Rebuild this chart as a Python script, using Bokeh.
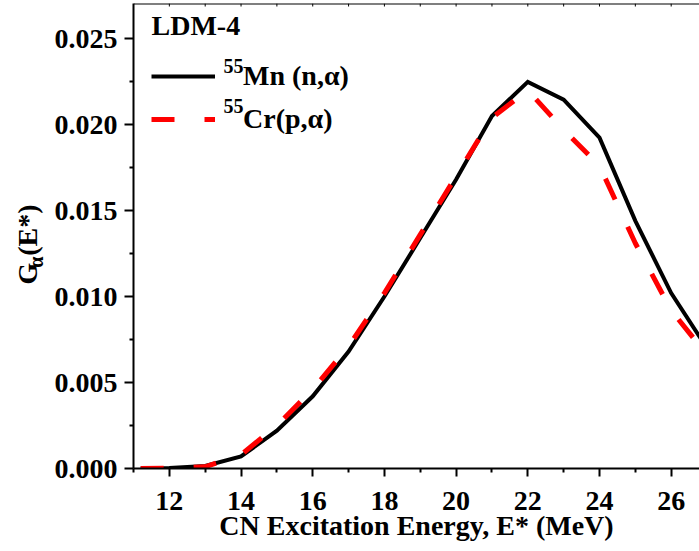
import math
from bokeh.plotting import figure
from bokeh.layouts import row
from bokeh.core.properties import value
from bokeh.models import (Range1d, LinearAxis, FixedTicker, Label, Legend,
                          LegendItem, PrintfTickFormatter, Span)
from bokeh.embed import file_html
from bokeh.resources import INLINE

# ---- data ----
energy = [11.2, 12, 13, 14, 15, 16, 17, 18, 19, 20, 21, 22, 23, 24, 25, 26, 27]
g_mn = [0.0, 0.00003, 0.00015, 0.0007, 0.0022, 0.0042, 0.0068, 0.0100, 0.0134,
        0.0168, 0.0205, 0.02248, 0.02145, 0.01924, 0.0144, 0.0102, 0.0070]
g_cr = [0.0, 0.00002, 0.0001, 0.0008, 0.0025, 0.0046, 0.0071, 0.0102, 0.0136,
        0.0170, 0.0204, 0.0220, 0.0197, 0.0176, 0.0131, 0.0092, 0.0066]

x_major = [12, 14, 16, 18, 20, 22, 24, 26]
x_minor = [11, 13, 15, 17, 19, 21, 23, 25, 27]
x_top = list(range(12, 27))
y_major = [0.0, 0.005, 0.010, 0.015, 0.020, 0.025]
y_minor = [0.0025, 0.0075, 0.0125, 0.0175, 0.0225]

label_mn = "Mn (n,α)"
label_cr = "Cr(p,α)"
title_txt = "LDM-4"
mass_txt = "55"
x_title = "CN Excitation Energy, E* (MeV)"
y_title_parts = ["G", "α", "(E*)"]

FONT = "Liberation Serif"
Y_TOP = 0.02704
FRAME_H = 551 - 3 - 83

# ---------- left strip carrying the rotated y-axis title ----------
LW, H = 48, 551
side = figure(width=LW, height=H, x_range=Range1d(0, LW), y_range=Range1d(0, H),
              output_backend="svg", toolbar_location=None,
              x_axis_location=None, y_axis_location=None,
              min_border_left=0, min_border_right=0, min_border_top=0,
              min_border_bottom=0)
side.outline_line_color = None
side.grid.visible = False
side.background_fill_color = "white"
side.border_fill_color = "white"
side.text(x=[27], y=[218], text=[y_title_parts[0]], angle=math.pi / 2,
          text_font=value(FONT), text_font_style="bold", text_font_size="28px",
          text_color="black", text_align="left", text_baseline="alphabetic")
side.text(x=[35.5], y=[238], text=[y_title_parts[1]], angle=math.pi / 2,
          text_font=value(FONT), text_font_style="bold", text_font_size="20px",
          text_color="black", text_align="left", text_baseline="alphabetic")
side.text(x=[27], y=[252], text=[y_title_parts[2]], angle=math.pi / 2,
          text_font=value(FONT), text_font_style="bold", text_font_size="28px",
          text_color="black", text_align="left", text_baseline="alphabetic")

# ---------- main plot ----------
p = figure(width=699 - LW, height=H, x_range=Range1d(11, 26.79),
           y_range=Range1d(0, Y_TOP), output_backend="svg",
           toolbar_location=None, x_axis_location=None, y_axis_location=None,
           min_border_left=133 - LW, min_border_right=0, min_border_top=3,
           min_border_bottom=83)
p.outline_line_color = None
p.background_fill_color = "white"
p.border_fill_color = "white"
p.grid.visible = False

xb = LinearAxis(ticker=FixedTicker(ticks=x_major, minor_ticks=x_minor),
                axis_label=x_title)
yl = LinearAxis(ticker=FixedTicker(ticks=y_major, minor_ticks=y_minor),
                formatter=PrintfTickFormatter(format="%.3f"))
for ax in (xb, yl):
    ax.axis_line_width = 2
    ax.axis_line_color = "black"
    ax.major_tick_line_width = 2
    ax.minor_tick_line_width = 2
    ax.major_tick_in = 0
    ax.minor_tick_in = 0
    ax.major_label_text_font = FONT
    ax.major_label_text_font_style = "bold"
    ax.major_label_text_font_size = "28px"
    ax.major_label_text_color = "black"
    ax.axis_label_text_font = FONT
    ax.axis_label_text_font_style = "bold"
    ax.axis_label_text_font_size = "28px"
    ax.axis_label_text_color = "black"
xb.major_tick_out = 8
xb.minor_tick_out = 4
xb.major_label_standoff = 15
xb.axis_label_standoff = -3
yl.major_tick_out = 9
yl.minor_tick_out = 4
yl.major_label_standoff = 7
p.add_layout(xb, "below")
p.add_layout(yl, "left")

# top frame line with small inward ticks
p.add_layout(Span(location=Y_TOP, dimension="width", line_color="black",
                  line_width=2))
tick_len = Y_TOP * 3.0 / FRAME_H
p.segment(x0=x_top, y0=[Y_TOP] * len(x_top), x1=x_top,
          y1=[Y_TOP - tick_len] * len(x_top), line_color="black", line_width=1)

r_mn = p.line(energy, g_mn, line_color="black", line_width=4,
              line_join="miter")
r_cr = p.line(energy, g_cr, line_color="#ff0000", line_width=5,
              line_dash="23 30")

legend = Legend(items=[LegendItem(label=label_mn, renderers=[r_mn]),
                       LegendItem(label=label_cr, renderers=[r_cr])],
                location=(18, 329), orientation="vertical", padding=0,
                margin=0, spacing=3, glyph_width=64, glyph_height=40,
                label_height=40, label_standoff=28,
                label_text_font=FONT, label_text_font_style="bold",
                label_text_font_size="28px", label_text_color="black",
                border_line_color=None, background_fill_alpha=0)
p.add_layout(legend)

def lab(text, x, y, size):
    return Label(x=x, y=y, x_units="screen", y_units="screen", text=text,
                 text_font=FONT, text_font_style="bold",
                 text_font_size=size, text_color="black",
                 text_align="left", text_baseline="alphabetic")

p.add_layout(lab(title_txt, 18, 443, "28px"))
p.add_layout(lab(mass_txt, 90, 403, "20px"))
p.add_layout(lab(mass_txt, 90, 363, "20px"))

layout = row(side, p, spacing=0)
open("out.html", "w").write(file_html(layout, INLINE))
